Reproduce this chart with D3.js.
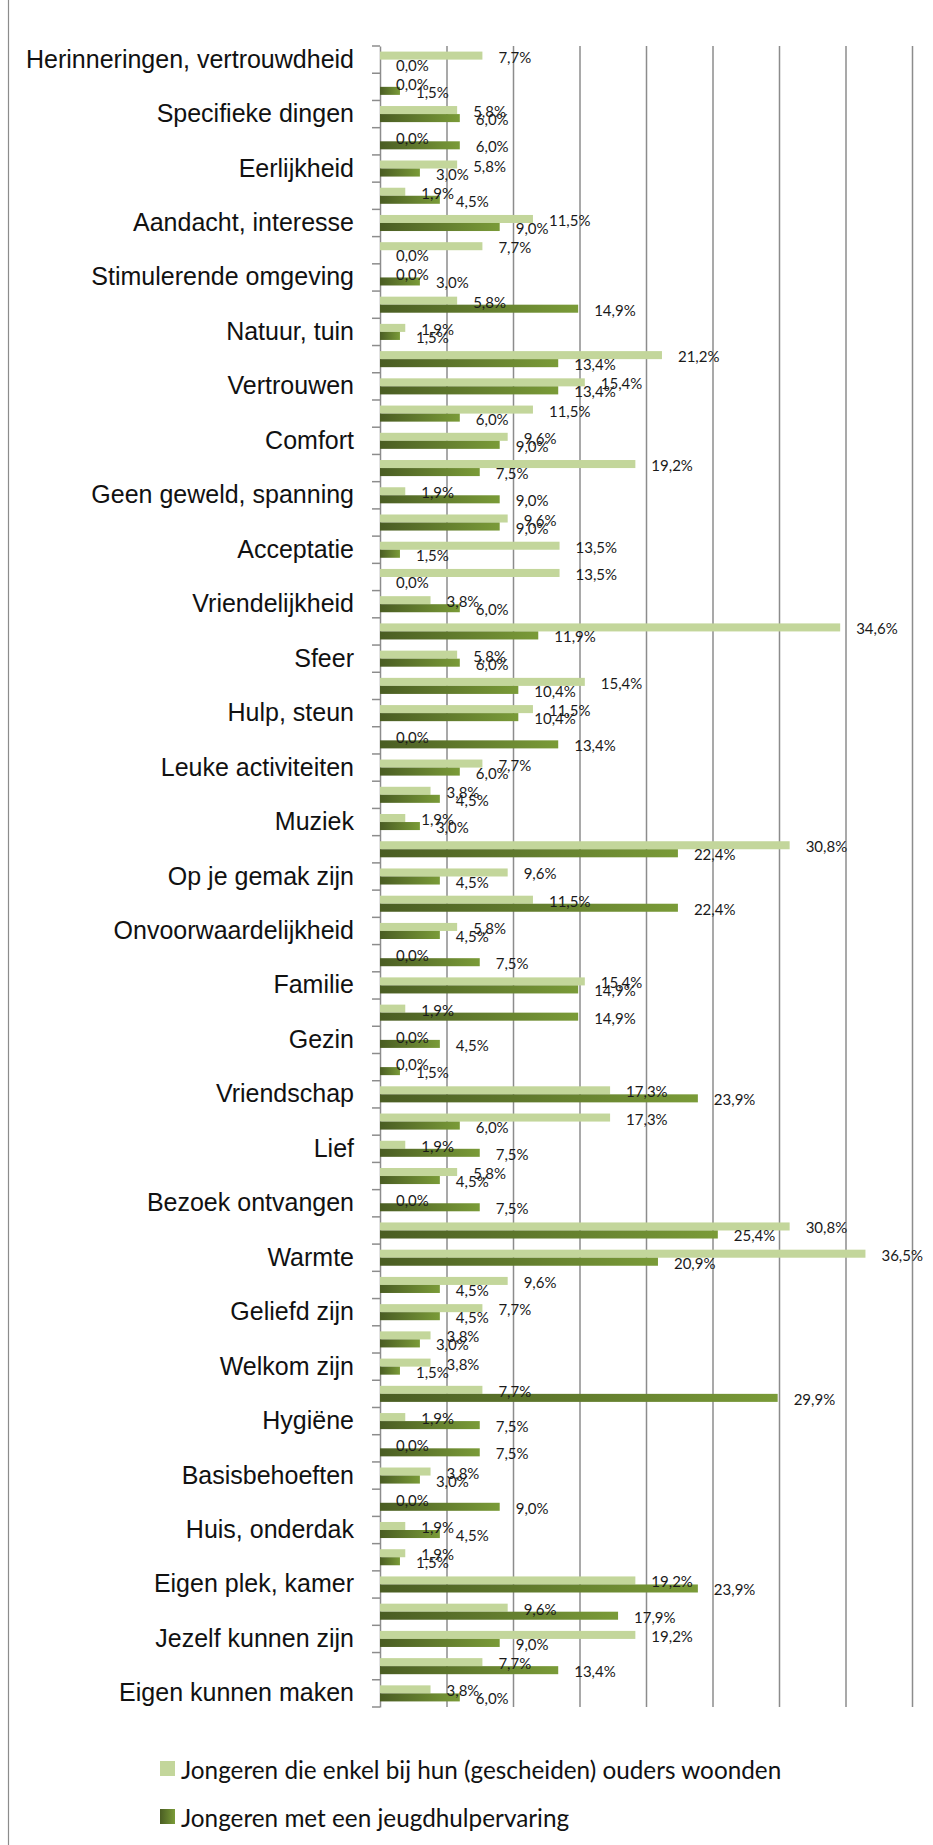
<!DOCTYPE html>
<html lang="nl">
<head>
  <meta charset="utf-8" />
  <title>Thuisgevoel</title>
  <script src="https://d3js.org/d3.v7.min.js"></script>
  <style>
body {
  margin: 0;
  background: #fff;
}
svg {
  display: block;
  font-family: Lato, 'Open Sans', sans-serif;
}
.grid line {
  stroke: #8c8c8c;
  stroke-width: 1.5;
}
.value {
  font-size: 15px;
  fill: #1a1a1a;
}
.cat text {
  font-size: 25px;
  fill: #111;
}
.legend text {
  font-size: 24.3px;
  fill: #111;
}
  </style>
</head>
<body>
<svg id="chart" width="933" height="1845"></svg>
<script>
// labels only shown on every other category (as in the original chart)
var categories = [
  'Herinneringen, vertrouwdheid', '', 'Specifieke dingen', '', 'Eerlijkheid', '',
  'Aandacht, interesse', '', 'Stimulerende omgeving', '', 'Natuur, tuin', '',
  'Vertrouwen', '', 'Comfort', '', 'Geen geweld, spanning', '',
  'Acceptatie', '', 'Vriendelijkheid', '', 'Sfeer', '',
  'Hulp, steun', '', 'Leuke activiteiten', '', 'Muziek', '',
  'Op je gemak zijn', '', 'Onvoorwaardelijkheid', '', 'Familie', '',
  'Gezin', '', 'Vriendschap', '', 'Lief', '',
  'Bezoek ontvangen', '', 'Warmte', '', 'Geliefd zijn', '',
  'Welkom zijn', '', 'Hygiëne', '', 'Basisbehoeften', '',
  'Huis, onderdak', '', 'Eigen plek, kamer', '', 'Jezelf kunnen zijn', '',
  'Eigen kunnen maken'
];

var ouders = [
  7.7, 0.0, 5.8, 0.0, 5.8, 1.9,
  11.5, 7.7, 0.0, 5.8, 1.9, 21.2,
  15.4, 11.5, 9.6, 19.2, 1.9, 9.6,
  13.5, 13.5, 3.8, 34.6, 5.8, 15.4,
  11.5, 0.0, 7.7, 3.8, 1.9, 30.8,
  9.6, 11.5, 5.8, 0.0, 15.4, 1.9,
  0.0, 0.0, 17.3, 17.3, 1.9, 5.8,
  0.0, 30.8, 36.5, 9.6, 7.7, 3.8,
  3.8, 7.7, 1.9, 0.0, 3.8, 0.0,
  1.9, 1.9, 19.2, 9.6, 19.2, 7.7,
  3.8
];

var jeugdhulp = [
  0.0, 1.5, 6.0, 6.0, 3.0, 4.5,
  9.0, 0.0, 3.0, 14.9, 1.5, 13.4,
  13.4, 6.0, 9.0, 7.5, 9.0, 9.0,
  1.5, 0.0, 6.0, 11.9, 6.0, 10.4,
  10.4, 13.4, 6.0, 4.5, 3.0, 22.4,
  4.5, 22.4, 4.5, 7.5, 14.9, 14.9,
  4.5, 1.5, 23.9, 6.0, 7.5, 4.5,
  7.5, 25.4, 20.9, 4.5, 4.5, 3.0,
  1.5, 29.9, 7.5, 7.5, 3.0, 9.0,
  4.5, 1.5, 23.9, 17.9, 9.0, 13.4,
  6.0
];

var seriesNames = [
  'Jongeren die enkel bij hun (gescheiden) ouders woonden',
  'Jongeren met een jeugdhulpervaring'
];

var xTicks = [0, 5, 10, 15, 20, 25, 30, 35, 40];

var plotLeft = 380, plotRight = 912, plotTop = 46, plotBottom = 1707;

var svg = d3.select('#chart');

// outer chart border
svg.append('rect')
  .attr('x', 8.5).attr('y', -2)
  .attr('width', 940).attr('height', 1850)
  .attr('fill', 'none')
  .attr('stroke', '#8c8c8c')
  .attr('stroke-width', 1.2);

var defs = svg.append('defs');
var grad = defs.append('linearGradient')
  .attr('id', 'darkGrad')
  .attr('x1', 0).attr('x2', 1).attr('y1', 0).attr('y2', 0);
grad.append('stop').attr('offset', '0%').attr('stop-color', '#4a5d23');
grad.append('stop').attr('offset', '100%').attr('stop-color', '#7a9b38');

var x = d3.scaleLinear()
  .domain([0, 40])
  .range([plotLeft, plotRight]);

var y = d3.scaleBand()
  .domain(d3.range(categories.length))
  .range([plotTop, plotBottom])
  .paddingInner(0.41)
  .paddingOuter(0.205);

var sub = d3.scaleBand()
  .domain([0, 1])
  .range([0, y.bandwidth()]);

// vertical gridlines
svg.append('g')
  .attr('class', 'grid')
  .attr('transform', `translate(0, ${plotBottom})`)
  .call(d3.axisBottom(x)
    .tickValues(xTicks.slice(1))
    .tickSize(-(plotBottom - plotTop))
    .tickFormat(''))
  .call(g => g.select('.domain').remove());

// category axis
var yAxis = svg.append('g')
  .attr('class', 'cat')
  .attr('transform', `translate(${plotLeft}, 0)`)
  .call(d3.axisLeft(y)
    .tickSize(0)
    .tickPadding(26)
    .tickFormat(i => categories[i]));
yAxis.select('.domain')
  .attr('stroke', '#8c8c8c')
  .attr('stroke-width', 1.5);

var gap = (y.step() - y.bandwidth()) / 2;
svg.append('g')
  .selectAll('line')
  .data(d3.range(categories.length + 1))
  .join('line')
  .attr('x1', plotLeft - 8).attr('x2', plotLeft)
  .attr('y1', i => i < categories.length ? y(i) - gap : plotBottom)
  .attr('y2', i => i < categories.length ? y(i) - gap : plotBottom)
  .attr('stroke', '#8c8c8c')
  .attr('stroke-width', 1.5);

var rows = categories.map((c, i) => ({ i: i, a: ouders[i], b: jeugdhulp[i] }));

var row = svg.append('g')
  .selectAll('g')
  .data(rows)
  .join('g')
  .attr('transform', d => `translate(0, ${y(d.i)})`);

row.append('rect')
  .attr('x', plotLeft)
  .attr('y', sub(0))
  .attr('width', d => x(d.a) - plotLeft)
  .attr('height', sub.bandwidth())
  .attr('fill', '#c3d69b');

row.append('rect')
  .attr('x', plotLeft)
  .attr('y', sub(1))
  .attr('width', d => x(d.b) - plotLeft)
  .attr('height', sub.bandwidth())
  .attr('fill', 'url(#darkGrad)');

var fmt = v => v.toFixed(1).replace('.', ',') + '%';

row.append('text')
  .attr('class', 'value')
  .attr('x', d => x(d.a) + 16)
  .attr('y', sub(0) + sub.bandwidth() / 2 + 1)
  .attr('dominant-baseline', 'central')
  .text(d => fmt(d.a));

row.append('text')
  .attr('class', 'value')
  .attr('x', d => x(d.b) + 16)
  .attr('y', sub(1) + sub.bandwidth() / 2 + 1)
  .attr('dominant-baseline', 'central')
  .text(d => fmt(d.b));

// legend
var legend = svg.append('g')
  .attr('class', 'legend')
  .selectAll('g')
  .data(seriesNames)
  .join('g')
  .attr('transform', (d, i) => `translate(160, ${1761 + i * 48})`);

legend.append('rect')
  .attr('width', 15)
  .attr('height', 15)
  .attr('fill', (d, i) => i === 0 ? '#c3d69b' : 'url(#darkGrad)');

legend.append('text')
  .attr('x', 21)
  .attr('y', 8)
  .attr('dominant-baseline', 'central')
  .text(d => d);
</script>
</body>
</html>
